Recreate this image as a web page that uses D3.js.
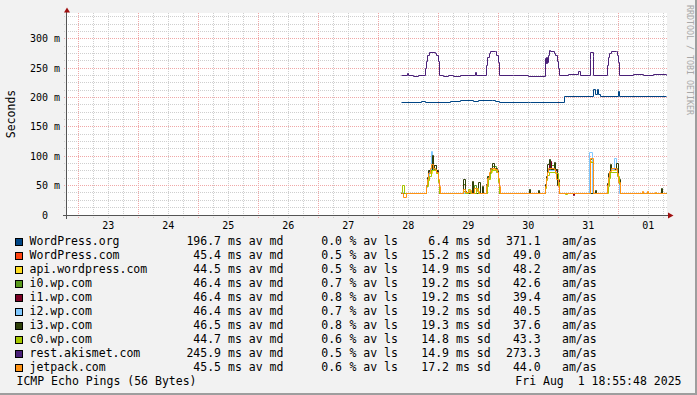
<!DOCTYPE html>
<html lang="en">
<head>
<meta charset="utf-8">
<title>ICMP Echo Pings</title>
<script src="https://cdnjs.cloudflare.com/ajax/libs/d3/7.8.5/d3.min.js"></script>
<style>
body { margin: 0; background: #f2f2f2; }
svg { display: block; font-family: "DejaVu Sans Mono", monospace; }
</style>
</head>
<body>
<div id="viz"></div>
<script>
// legend table
const names = ["WordPress.org", "WordPress.com", "api.wordpress.com", "i0.wp.com", "i1.wp.com",
               "i2.wp.com", "i3.wp.com", "c0.wp.com", "rest.akismet.com", "jetpack.com"];
const colors = ["#004585", "#ff4411", "#ffdd22", "#5a9a1e", "#7b0024",
                "#80c8ff", "#2f400a", "#a6c800", "#4a2078", "#ff9214"];
const avgMs = [196.7, 45.4, 44.5, 46.4, 46.4, 46.4, 46.5, 44.7, 245.9, 45.5];
const lossPct = [0.0, 0.5, 0.5, 0.7, 0.8, 0.7, 0.8, 0.6, 0.5, 0.6];
const sdMs = [6.4, 15.2, 14.9, 19.2, 19.2, 19.2, 19.3, 14.8, 14.9, 17.2];
const amas = [371.1, 49.0, 48.2, 42.6, 39.4, 40.5, 37.6, 43.3, 273.3, 44.0];

const yTicks = [0, 50, 100, 150, 200, 250, 300];
const dayLabels = ["23", "24", "25", "26", "27", "28", "29", "30", "31", "01"];

// series: [hours since Jul 28 00:00, ms]
const wpOrg = [[9.2,191],[17.3,193],[19.0,191],[29.0,193],[33.0,194.5],[38.0,193.5],[40.0,194.5],[45.7,195],[47.0,194],[48.4,191],[60.0,191.5],[61,191],[74.7,202.5],[86.3,214],[86.8,205],[87.6,214],[88.1,205],[88.8,202.5],[96.0,210],[96.4,202],[115.3,202]];
const wpCom = [[9.2,37],[19.4,48],[19.9,60],[20.6,72],[21.6,82],[22.4,76],[23.5,72],[24.1,58],[24.6,37],[34.3,44],[35,37],[43.6,50],[44.1,64],[44.9,74],[45.6,79],[47.4,74],[48.0,60],[48.5,37],[66.8,48],[67.3,62],[67.9,75],[70.8,75],[71.6,58],[72.4,37],[84.8,94],[86,37],[91.9,52],[92.4,66],[93,78],[95.8,73],[96.3,56],[96.8,37],[115.3,37]];
const apiWp = [[9.2,37],[19.4,47],[19.9,58],[20.6,70],[21.6,80],[23.4,71],[24.0,57],[24.5,37],[43.6,48],[44.1,62],[44.9,72],[45.6,77],[47.4,72],[48.0,58],[48.5,37],[66.8,47],[67.3,60],[67.9,73],[70.8,72],[71.6,56],[72.4,37],[84.8,92],[86,37],[91.9,50],[92.4,64],[93,76],[95.8,72],[96.3,55],[96.8,37],[115.3,37]];
const i0 = [[9.2,37],[19.4,49],[19.8,62],[20.5,75],[21.5,88],[22.2,78],[23.5,74],[24.1,58],[24.6,37],[34.2,52],[34.8,37],[38.6,50],[39.2,37],[43.5,50],[43.9,64],[44.9,77],[45.7,82],[47.5,75],[48.0,60],[48.5,37],[66.8,50],[67.3,64],[67.7,78],[68.4,84],[70.8,78],[71.6,60],[72.4,37],[84.8,95],[86,37],[91.9,52],[92.4,68],[92.9,80],[95.6,78],[96.3,58],[96.8,37],[115.3,37]];
const i1 = [[9.2,37],[19.4,48],[19.9,61],[20.6,74],[21.5,84],[23.4,74],[24.0,58],[24.5,37],[43.6,50],[44.1,63],[45,76],[47.4,74],[48.0,58],[48.5,37],[66.8,50],[67.3,64],[67.8,78],[68.6,92],[69.2,80],[70.8,76],[71.6,58],[72.4,37],[78,34],[78.6,37],[84.8,90],[86,37],[91.9,50],[92.4,66],[93,78],[95.8,74],[96.3,56],[96.8,37],[115.3,37]];
const i2 = [[9.2,38],[10,37],[19.4,47],[19.9,60],[20.6,72],[21.4,108],[21.9,80],[23.4,72],[24.0,56],[24.5,37],[43.6,48],[44.1,62],[45,76],[47.4,72],[48.0,56],[48.5,37],[66.8,48],[67.3,62],[67.8,76],[70.8,74],[71.6,56],[72.4,37],[77,36],[77.6,37],[84.7,106],[85.8,37],[91.9,50],[92.4,64],[93,78],[94.7,96],[95.2,76],[96.2,56],[96.7,37],[115.3,37]];
const i3 = [[9.2,37],[19.4,50],[19.8,64],[20.3,76],[21.6,101],[22.1,80],[22.6,84],[23.5,76],[24.1,58],[24.6,37],[34.2,61],[34.8,40],[35.4,37],[37.7,57],[38.2,37],[40.3,55],[40.8,37],[41.8,49],[42.3,37],[43.5,52],[43.9,66],[45,80],[45.9,88],[46.6,80],[47.6,74],[48.1,58],[48.6,37],[60.4,43],[60.8,37],[64,42],[64.4,37],[66.8,52],[67.2,66],[67.6,86],[68.4,94],[69,78],[70.4,90],[71,77],[71.8,50],[72.5,37],[86.8,42],[87.2,37],[91.9,54],[92.3,70],[92.8,86],[93.4,80],[95.4,88],[96.2,60],[96.8,37],[113.4,46],[113.8,37],[115.3,37]];
const c0 = [[9.2,38],[9.6,51],[10.4,37],[19.5,48],[20.0,58],[20.5,66],[21.5,76],[23.5,70],[24.0,56],[24.4,37],[34.1,40],[35,37],[36,44],[36.8,37],[39.5,46],[40.2,37],[43.7,48],[44.2,60],[44.8,70],[45.5,76],[47.5,72],[48.0,56],[48.5,37],[67,46],[67.4,58],[67.8,68],[68.5,73],[71,70],[72,56],[72.6,37],[75,35],[75.6,37],[84.8,90],[86,37],[92,48],[92.4,62],[92.8,72],[95.9,66],[96.4,52],[96.9,37],[115.3,37]];
const akismet = [[9.2,238],[11.6,242],[12,238],[14,236],[16,238],[19.0,250],[19.4,262],[19.9,272],[20.6,277],[22.8,276],[23.4,272],[24.0,262],[24.5,238],[26,236],[28,238],[30,236],[33,238],[38.8,243],[39.4,238],[43.5,255],[43.9,268],[44.4,276],[45,279],[46.8,278],[47.3,272],[48,260],[48.5,237],[54,238],[60,236],[66.8,266],[67.0,258],[67.2,268],[67.4,258],[67.6,268],[67.8,260],[68.0,272],[68.4,281],[68.8,279],[70.6,276],[71.1,272],[71.6,262],[72.2,250],[72.6,238],[76,240],[80.2,244],[80.8,238],[84.8,265],[85.0,277],[86.0,270],[86.2,238],[91.8,255],[92.2,268],[92.7,276],[93.3,279],[95.2,278],[95.7,272],[96.2,260],[96.6,238],[102,240],[106,238],[110,239],[115.3,238]];
const jetpack = [[9.2,37],[10.0,29],[11.2,37],[19.5,50],[19.9,60],[20.3,70],[20.9,80],[21.5,86],[22.1,80],[23.0,77],[23.5,72],[24.1,60],[24.5,48],[24.8,37],[28,36],[30,37],[34.1,44],[35.0,38],[36.5,42],[37.2,37],[38.7,46],[39.6,40],[40.5,37],[43.5,50],[43.9,62],[44.4,72],[45.0,77],[45.5,80],[47.1,77],[47.6,72],[48.1,62],[48.5,48],[48.8,37],[66.8,48],[67.2,62],[67.6,73],[68.1,79],[70.4,77],[70.9,72],[71.5,60],[72.0,48],[72.5,37],[84.8,97],[86.1,37],[91.8,50],[92.2,64],[92.7,74],[93.3,80],[95.3,78],[95.9,70],[96.3,56],[96.8,37],[105.6,40],[106,37],[107.6,40],[108,37],[111,38],[111.4,37],[115.3,37]];

const series = [wpOrg, wpCom, apiWp, i0, i1, i2, i3, c0, akismet, jetpack];

const width = 697, height = 395;
const base = Date.UTC(2025, 6, 28);
const tStart = new Date(Date.UTC(2025, 6, 22, 19, 20));
const tEnd = new Date(Date.UTC(2025, 7, 1, 19, 20));

const x = d3.scaleUtc().domain([tStart, tEnd]).range([66.5, 666.5]);
const y = d3.scaleLinear().domain([0, 344.3]).range([215, 13]);
const snap = v => Math.floor(v) + 0.5;

const svg = d3.select("#viz").append("svg")
  .attr("width", width).attr("height", height);

svg.append("rect").attr("width", width).attr("height", height).attr("fill", "#f2f2f2");
// frame shading
svg.append("rect").attr("x", 695).attr("y", 0).attr("width", 2).attr("height", height).attr("fill", "#9e9e9e");
svg.append("rect").attr("x", 0).attr("y", 393).attr("width", width).attr("height", 2).attr("fill", "#9e9e9e");

// canvas
svg.append("rect").attr("x", 67).attr("y", 13).attr("width", 600).attr("height", 202).attr("fill", "#ffffff");

// grid
const grid = svg.append("g").attr("stroke-width", 1).attr("fill", "none");
const minorH = d3.range(12.5, 344, 12.5).filter(v => v % 50 !== 0);
grid.selectAll(".hmin").data(minorH).enter().append("line")
  .attr("x1", 64).attr("x2", 667)
  .attr("y1", d => snap(y(d))).attr("y2", d => snap(y(d)))
  .attr("stroke", "#cfcfcf").attr("stroke-dasharray", "1,1");
const sixHours = d3.utcHour.every(6).range(tStart, tEnd).filter(d => d.getUTCHours() !== 0);
grid.selectAll(".vmin").data(sixHours).enter().append("line")
  .attr("x1", d => snap(x(d))).attr("x2", d => snap(x(d)))
  .attr("y1", 13).attr("y2", 218)
  .attr("stroke", "#cfcfcf").attr("stroke-dasharray", "1,1");
grid.selectAll(".hmaj").data(yTicks.slice(1)).enter().append("line")
  .attr("x1", 64).attr("x2", 667)
  .attr("y1", d => snap(y(d))).attr("y2", d => snap(y(d)))
  .attr("stroke", "#f0a8a8").attr("stroke-dasharray", "1,1");
const days = d3.utcDay.range(tStart, tEnd);
grid.selectAll(".vmaj").data(days).enter().append("line")
  .attr("x1", d => snap(x(d))).attr("x2", d => snap(x(d)))
  .attr("y1", 13).attr("y2", 218)
  .attr("stroke", "#f0a8a8").attr("stroke-dasharray", "1,1");

// lines
const line = d3.line()
  .x(d => snap(x(new Date(base + d[0] * 3600000))))
  .y(d => snap(y(d[1])))
  .curve(d3.curveStepAfter);
svg.append("g").selectAll("path").data(series).enter().append("path")
  .attr("d", d => line(d))
  .attr("fill", "none")
  .attr("stroke", (d, i) => colors[i])
  .attr("stroke-width", 1);

// axes
svg.append("line").attr("x1", 63).attr("x2", 669).attr("y1", 215.5).attr("y2", 215.5).attr("stroke", "#555");
svg.append("line").attr("x1", 66.5).attr("x2", 66.5).attr("y1", 11).attr("y2", 219).attr("stroke", "#555");
svg.append("path").attr("d", "M64,12.5L70,12.5L67,7.5Z").attr("fill", "#a01010");
svg.append("path").attr("d", "M668,212.5L668,218.5L673.5,215.5Z").attr("fill", "#a01010");

// y labels
const ylab = svg.append("g").attr("font-size", 10).attr("fill", "#000");
ylab.selectAll(".n").data(yTicks).enter().append("text")
  .attr("x", 48).attr("y", d => y(d) + 3.5)
  .attr("text-anchor", "end").text(d => d);
ylab.selectAll(".u").data(yTicks.slice(1)).enter().append("text")
  .attr("x", 54).attr("y", d => y(d) + 3.5).text("m");

// x labels at noon
const noons = days.map(d => new Date(d.getTime() + 12 * 3600000));
svg.append("g").attr("font-size", 10).selectAll("text").data(noons).enter().append("text")
  .attr("x", d => x(d)).attr("y", 228.5).attr("text-anchor", "middle")
  .text((d, i) => dayLabels[i]);

// axis title
svg.append("text").attr("transform", "translate(15,114) rotate(-90)")
  .attr("text-anchor", "middle").attr("font-size", 11.5).text("Seconds");

// watermark
svg.append("text").attr("transform", "translate(686.5,5) rotate(90)")
  .attr("font-size", 8.3).attr("fill", "#a8a8a8").text("RRDTOOL / TOBI OETIKER");

// legend
const leg = svg.append("g").attr("font-size", 11.5).attr("fill", "#000");
const rows = leg.selectAll("g").data(names).enter().append("g")
  .attr("transform", (d, i) => `translate(0,${245 + i * 14})`);
rows.append("rect").attr("x", 15.5).attr("y", -6.5).attr("width", 7).attr("height", 7)
  .attr("fill", (d, i) => colors[i]).attr("stroke", "#000");
rows.append("text").attr("x", 29.5).text(d => d);
rows.append("text").attr("x", 221).attr("text-anchor", "end").text((d, i) => avgMs[i].toFixed(1));
rows.append("text").attr("x", 228).text("ms av md");
rows.append("text").attr("x", 342).attr("text-anchor", "end").text((d, i) => lossPct[i].toFixed(1));
rows.append("text").attr("x", 349.5).text("% av ls");
rows.append("text").attr("x", 449).attr("text-anchor", "end").text((d, i) => sdMs[i].toFixed(1));
rows.append("text").attr("x", 456).text("ms sd");
rows.append("text").attr("x", 540.6).attr("text-anchor", "end").text((d, i) => amas[i].toFixed(1));
rows.append("text").attr("x", 562).text("am/as");

leg.append("text").attr("x", 16.5).attr("y", 385).text("ICMP Echo Pings (56 Bytes)");
leg.append("text").attr("x", 681.5).attr("y", 385).attr("text-anchor", "end")
  .attr("xml:space", "preserve").style("white-space", "pre").text("Fri Aug  1 18:55:48 2025");
</script>
</body>
</html>
